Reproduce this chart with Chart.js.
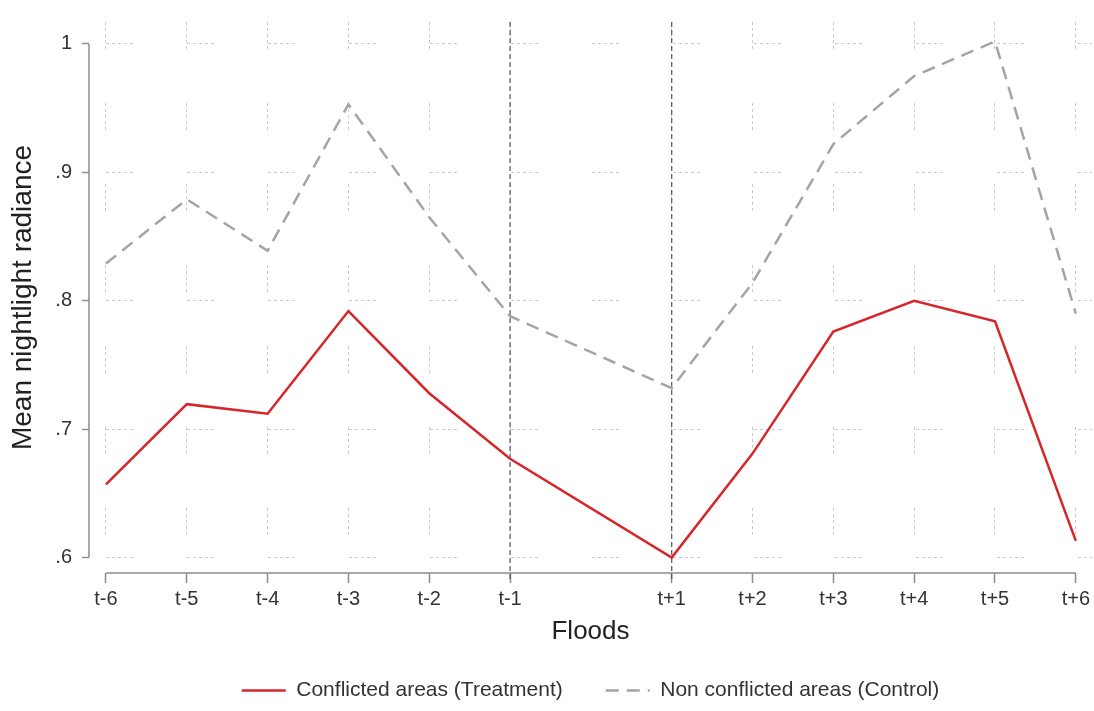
<!DOCTYPE html>
<html lang="en">
<head>
  <meta charset="UTF-8">
  <title>Mean nightlight radiance around floods</title>
  <script src="https://cdn.jsdelivr.net/npm/chart.js"></script>
  <style>
    body { margin: 0; background: #fff; }
  </style>
</head>
<body>
  <canvas id="floodChart" width="1094" height="711"></canvas>
  <script>
    // periods relative to the flood (t=0 is left out)
    const periods = [-6, -5, -4, -3, -2, -1, 1, 2, 3, 4, 5, 6];
    const periodLabels = ['t-6', 't-5', 't-4', 't-3', 't-2', 't-1', 't+1', 't+2', 't+3', 't+4', 't+5', 't+6'];
    const treatment = [0.657, 0.7195, 0.712, 0.792, 0.728, 0.677, 0.600, 0.681, 0.776, 0.800, 0.784, 0.613];
    const control = [0.829, 0.879, 0.839, 0.953, 0.865, 0.788, 0.732, 0.814, 0.922, 0.975, 1.002, 0.790];
    const yTicks = [0.6, 0.7, 0.8, 0.9, 1.0];
    const yLabels = ['.6', '.7', '.8', '.9', '1'];
    const eventLines = [-1, 1];

    const FONT = 'Liberation Sans, Arial, Helvetica, sans-serif';
    const legendPad = 43;
    const legendFont = 21;

    // dotted grid groups, like the stata scheme
    const gridDash = [3, 3, 3, 3, 3, 3, 3, 3, 3, 54];

    // axis lines that stop at the first/last tick, plus the flood markers
    const framePlugin = {
      id: 'frame',
      beforeDatasetsDraw(chart) {
        const { ctx, chartArea: a, scales: { x, y } } = chart;
        ctx.save();
        ctx.strokeStyle = '#555';
        ctx.lineWidth = 1.2;
        ctx.setLineDash([5, 3]);
        eventLines.forEach(v => {
          const px = x.getPixelForValue(v);
          ctx.beginPath();
          ctx.moveTo(px, a.top);
          ctx.lineTo(px, a.bottom + 8);
          ctx.stroke();
        });
        ctx.setLineDash([]);
        ctx.strokeStyle = '#8c8c8c';
        ctx.lineWidth = 1.5;
        ctx.beginPath();
        ctx.moveTo(a.left, y.getPixelForValue(yTicks[0]));
        ctx.lineTo(a.left, y.getPixelForValue(yTicks[yTicks.length - 1]));
        ctx.stroke();
        ctx.beginPath();
        ctx.moveTo(x.getPixelForValue(periods[0]), a.bottom);
        ctx.lineTo(x.getPixelForValue(periods[periods.length - 1]), a.bottom);
        ctx.stroke();
        ctx.restore();
      }
    };

    const ctx = document.getElementById('floodChart').getContext('2d');
    new Chart(ctx, {
      type: 'line',
      data: {
        datasets: [{
          label: 'Conflicted areas (Treatment)',
          data: periods.map((p, i) => ({ x: p, y: treatment[i] })),
          borderColor: 'rgb(214, 38, 42)',
          borderWidth: 2.5,
          pointRadius: 0,
          tension: 0
        }, {
          label: 'Non conflicted areas (Control)',
          data: periods.map((p, i) => ({ x: p, y: control[i] })),
          borderColor: '#a4a4a4',
          borderWidth: 2.5,
          borderDash: [13, 8],
          pointRadius: 0,
          tension: 0
        }]
      },
      options: {
        responsive: false,
        animation: false,
        layout: { padding: { top: 12, left: 0, right: 0, bottom: 0 } },
        plugins: {
          tooltip: { enabled: false },
          legend: {
            position: 'bottom',
            fullSize: false,
            labels: {
              usePointStyle: true,
              pointStyle: 'line',
              pointStyleWidth: 44,
              padding: legendPad,
              color: '#333',
              font: { family: FONT, size: legendFont },
              generateLabels: chart => {
                const items = Chart.defaults.plugins.legend.labels.generateLabels(chart);
                items.forEach(it => {
                  const ds = chart.data.datasets[it.datasetIndex];
                  it.lineDash = ds.borderDash || [];
                  it.strokeStyle = ds.borderColor;
                  it.lineWidth = ds.borderWidth;
                });
                return items;
              }
            }
          }
        },
        scales: {
          x: {
            type: 'linear',
            min: -6.21,
            max: 6.2,
            afterBuildTicks: s => { s.ticks = periods.map(v => ({ value: v })); },
            afterFit: s => { s.height = 711 - 573 - (legendFont + legendPad + 10); },
            ticks: {
              padding: 4,
              color: '#333',
              font: { family: FONT, size: 20 },
              callback: v => periodLabels[periods.indexOf(v)]
            },
            grid: {
              color: '#c9c9c9',
              lineWidth: 1,
              tickLength: 10,
              tickColor: '#8c8c8c',
              tickWidth: 1.5,
              tickBorderDash: []
            },
            border: { display: false, dash: gridDash, dashOffset: 0 },
            title: {
              display: true,
              text: 'Floods',
              color: '#222',
              font: { family: FONT, size: 26 },
              padding: { top: 0, bottom: -10 }
            }
          },
          y: {
            min: 0.588,
            max: 1.0171,
            afterBuildTicks: s => { s.ticks = yTicks.map(v => ({ value: v })); },
            afterFit: s => { s.width = 89; },
            ticks: {
              padding: 10,
              color: '#333',
              font: { family: FONT, size: 20 },
              callback: v => yLabels[yTicks.indexOf(v)]
            },
            grid: {
              color: '#c9c9c9',
              lineWidth: 1,
              tickLength: 7,
              tickColor: '#8c8c8c',
              tickWidth: 1.5,
              tickBorderDash: []
            },
            border: { display: false, dash: gridDash, dashOffset: 64 },
            title: {
              display: true,
              text: 'Mean nightlight radiance',
              color: '#222',
              font: { family: FONT, size: 28 },
              padding: { top: 6, bottom: 0 }
            }
          }
        }
      },
      plugins: [framePlugin]
    });
  </script>
</body>
</html>
